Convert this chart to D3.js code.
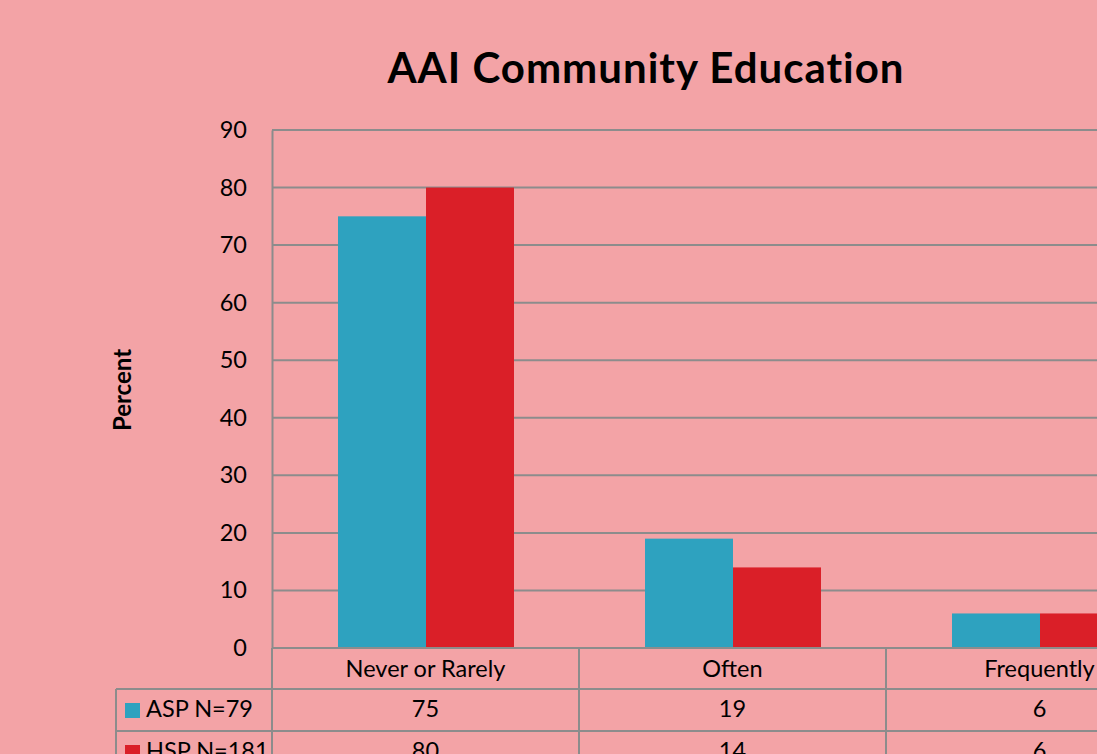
<!DOCTYPE html>
<html>
<head>
<meta charset="utf-8">
<script src="https://cdn.jsdelivr.net/npm/d3@7"></script>
<style>
  body { margin: 0; background: #f3a3a6; }
  svg { display: block; font-family: Lato, "Open Sans", sans-serif; }
</style>
</head>
<body>
<svg id="chart" width="1097" height="754"></svg>
<script>
const categories = ['Never or Rarely', 'Often', 'Frequently'];
const seriesNames = ['ASP N=79', 'HSP N=181'];
const aspValues = [75, 19, 6];
const hspValues = [80, 14, 6];
const yTicks = [0, 10, 20, 30, 40, 50, 60, 70, 80, 90];
const colors = ['#2ea2bf', '#da1f28'];

const svg = d3.select('#chart');
const gridColor = '#8c8c8c';
const fontSize = '23.5px';

const x = d3.scaleBand().domain(categories).range([272, 1193]);
const xInner = d3.scaleBand().domain(seriesNames).range([66, 242]);
const y = d3.scaleLinear().domain([0, 90]).range([648, 130]);

// title
svg.append('text')
  .attr('x', 646).attr('y', 83)
  .attr('text-anchor', 'middle')
  .style('font-weight', 'bold').style('font-size', '42px').style('letter-spacing', '1px')
  .text('AAI Community Education');

// y label
svg.append('text')
  .attr('transform', 'translate(131,390) rotate(-90)')
  .attr('text-anchor', 'middle')
  .style('font-weight', 'bold').style('font-size', '24px')
  .text('Percent');

// gridlines
svg.append('g').selectAll('line').data(yTicks.filter(d => d > 0)).join('line')
  .attr('x1', 272).attr('x2', 1193)
  .attr('y1', d => y(d)).attr('y2', d => y(d))
  .attr('stroke', gridColor).attr('stroke-width', 2);

// y axis
const yAxis = svg.append('g').attr('transform', 'translate(272,0)')
  .call(d3.axisLeft(y).tickValues(yTicks).tickSize(0).tickPadding(25));
yAxis.select('.domain').attr('stroke', gridColor).attr('stroke-width', 2);
yAxis.selectAll('text').style('font-size', fontSize).style('font-family', 'Lato, "Open Sans", sans-serif').attr('fill', '#000');

// bars
const data = categories.map((c, i) => ({ cat: c, vals: [aspValues[i], hspValues[i]] }));
svg.append('g').selectAll('g').data(data).join('g')
  .attr('transform', d => `translate(${x(d.cat)},0)`)
  .selectAll('rect').data(d => d.vals.map((v, j) => ({ v, s: seriesNames[j], j })))
  .join('rect')
  .attr('x', d => xInner(d.s))
  .attr('width', xInner.bandwidth())
  .attr('y', d => y(d.v))
  .attr('height', d => y(0) - y(d.v))
  .attr('fill', d => colors[d.j]);

// data table
const rowY = [648, 689, 731, 773];
const table = svg.append('g');
table.append('line').attr('x1', 272).attr('x2', 1193).attr('y1', rowY[0]).attr('y2', rowY[0])
  .attr('stroke', gridColor).attr('stroke-width', 2);
[rowY[1], rowY[2]].forEach(yy => {
  table.append('line').attr('x1', 116).attr('x2', 1193).attr('y1', yy).attr('y2', yy)
    .attr('stroke', gridColor).attr('stroke-width', 2);
});
table.append('line').attr('x1', 116).attr('x2', 116).attr('y1', rowY[1]).attr('y2', 754)
  .attr('stroke', gridColor).attr('stroke-width', 2);
categories.forEach(c => {
  table.append('line').attr('x1', x(c)).attr('x2', x(c)).attr('y1', rowY[0]).attr('y2', 754)
    .attr('stroke', gridColor).attr('stroke-width', 2);
});

table.selectAll('text.cat').data(categories).join('text')
  .attr('class', 'cat')
  .attr('x', d => x(d) + x.bandwidth() / 2).attr('y', 677)
  .attr('text-anchor', 'middle').style('font-size', fontSize)
  .text(d => d);

[aspValues, hspValues].forEach((vals, j) => {
  const yy = rowY[j + 1] + 28;
  table.append('rect').attr('x', 125).attr('y', yy - 14).attr('width', 15).attr('height', 15)
    .attr('fill', colors[j]);
  table.append('text').attr('x', 146).attr('y', yy).style('font-size', fontSize).text(seriesNames[j]);
  table.selectAll(null).data(vals).join('text')
    .attr('x', (d, i) => x(categories[i]) + x.bandwidth() / 2).attr('y', yy)
    .attr('text-anchor', 'middle').style('font-size', fontSize)
    .text(d => d);
});
</script>
</body>
</html>
